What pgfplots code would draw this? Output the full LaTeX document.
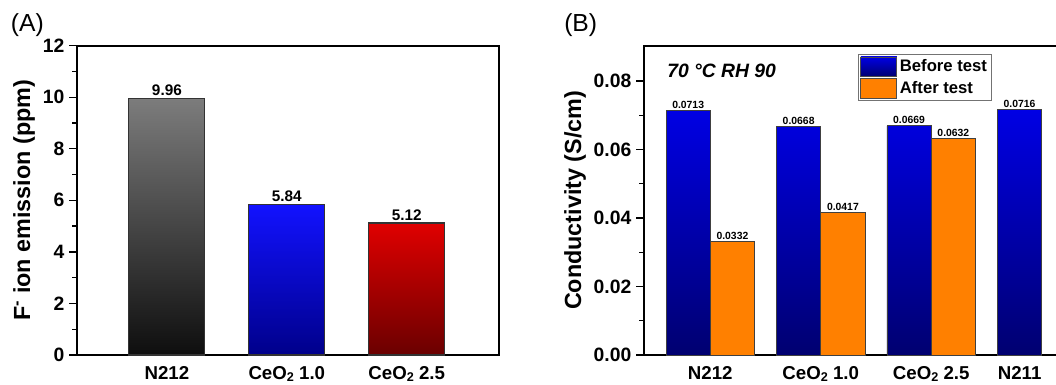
\documentclass[border=0pt]{standalone}
\usepackage{fontspec}
\setmainfont{Liberation Sans}
\usepackage{pgfplots}
\pgfplotsset{compat=1.18}
\newcommand{\subtwo}{\raisebox{-0.12em}{\fontsize{9.5}{9.5}\selectfont 2}}
\definecolor{grayTop}{HTML}{7C7C7C}
\definecolor{grayBot}{HTML}{0E0E0E}
\definecolor{blueTop}{HTML}{1212FF}
\definecolor{blueBot}{HTML}{00008A}
\definecolor{redTop}{HTML}{E00000}
\definecolor{redBot}{HTML}{6A0000}
\definecolor{bTop}{HTML}{0000E4}
\definecolor{bBot}{HTML}{000070}
\definecolor{orng}{HTML}{FF8000}
\begin{document}
\begin{tikzpicture}
\useasboundingbox (0,0) rectangle (792pt,288.75pt);
\clip (0,0) rectangle (792pt,288.75pt);
\node[anchor=west,font=\fontsize{18.5}{18.5}\selectfont, inner sep=0pt] at (8pt,270pt) {(A)};
\node[anchor=west,font=\fontsize{18.5}{18.5}\selectfont, inner sep=0pt] at (423pt,270pt) {(B)};
\pgfplotsset{
  every axis/.append style={
    scale only axis,
    axis line style={line width=1.3pt},
    tick align=outside,
    ytick pos=left,
    xtick pos=bottom,
    x tick style={draw=none},
    major tick length=6pt,
    minor tick length=3.5pt,
    every tick/.style={line width=1pt,black},
    yticklabel style={font=\bfseries\fontsize{14.5}{14.5}\selectfont},
    xticklabel style={font=\bfseries\fontsize{14}{14}\selectfont, yshift=0.8pt},
    /pgf/number format/assume math mode=true,
    label style={font=\bfseries\fontsize{17.5}{17.5}\selectfont},
    clip=false,
  }
}
% ---- Panel A
\begin{axis}[
  at={(57.75pt,22.5pt)}, anchor=south west,
  width=316.5pt, height=232pt,
  xmin=-0.75, xmax=2.77, ymin=0, ymax=12,
  ytick={0,2,...,12}, minor ytick={1,3,...,11},
  xtick={0,1,2}, xticklabels={N212,CeO\subtwo{} 1.0,CeO\subtwo{} 2.5},
  ylabel={F\textsuperscript{-} ion emission (ppm)},
  ylabel style={yshift=-1pt},
  nodes near coords,
  nodes near coords style={font=\fontsize{11.5}{11.5}\selectfont\bfseries, inner sep=1.5pt, /pgf/number format/fixed, /pgf/number format/precision=2, /pgf/number format/fixed zerofill},
]
\addplot[ybar, bar width=57pt, bar shift=0pt, draw=black!80, line width=0.8pt, top color=grayTop, bottom color=grayBot] coordinates {(0,9.96)};
\addplot[ybar, bar width=57pt, bar shift=0pt, draw=black!80, line width=0.8pt, top color=blueTop, bottom color=blueBot] coordinates {(1,5.84)};
\addplot[ybar, bar width=57pt, bar shift=0pt, draw=black!80, line width=0.8pt, top color=redTop, bottom color=redBot] coordinates {(2,5.12)};
\end{axis}
% ---- Panel B
\begin{axis}[
  at={(483pt,22.5pt)}, anchor=south west,
  width=348pt, height=232pt,
  xmin=-0.6, xmax=3.6, ymin=0, ymax=0.0903,
  ytick={0,0.02,0.04,0.06,0.08}, minor ytick={0.01,0.03,0.05,0.07},
  yticklabel style={/pgf/number format/fixed, /pgf/number format/precision=2, /pgf/number format/fixed zerofill},
  scaled y ticks=false,
  xtick={0,1,2,2.8}, xticklabels={N212,CeO\subtwo{} 1.0,CeO\subtwo{} 2.5,N211},
  ylabel={Conductivity (S/cm)},
  ylabel style={yshift=-1pt},
  ybar=0pt, bar width=33.2pt,
  nodes near coords,
  nodes near coords style={font=\fontsize{7.8}{7.8}\selectfont\bfseries, inner sep=1.2pt, /pgf/number format/fixed, /pgf/number format/precision=4, /pgf/number format/fixed zerofill},
  legend style={at={(0.461,0.973)}, anchor=north west, draw=black!55, line width=0.8pt, inner sep=1.5pt, row sep=1pt, font=\bfseries\fontsize{12.5}{12.5}\selectfont, cells={anchor=west}},
  legend image code/.code={\draw[#1, draw=black!70, line width=0.6pt] (0pt,-7.3pt) rectangle (27pt,7.3pt);},
]
\addplot[draw=black!75, line width=0.6pt, top color=bTop, bottom color=bBot] coordinates {(0,0.0713) (1,0.0668) (2,0.0669) (3,0.0716)};
\addplot[draw=black!75, line width=0.6pt, fill=orng] coordinates {(0,0.0332) (1,0.0417) (2,0.0632)};
\legend{Before test, After test}
\node[anchor=west, font=\bfseries\itshape\fontsize{14.5}{14.5}\selectfont] at (rel axis cs:0.04,0.92) {70 °C RH 90};
\end{axis}
\end{tikzpicture}
\end{document}
